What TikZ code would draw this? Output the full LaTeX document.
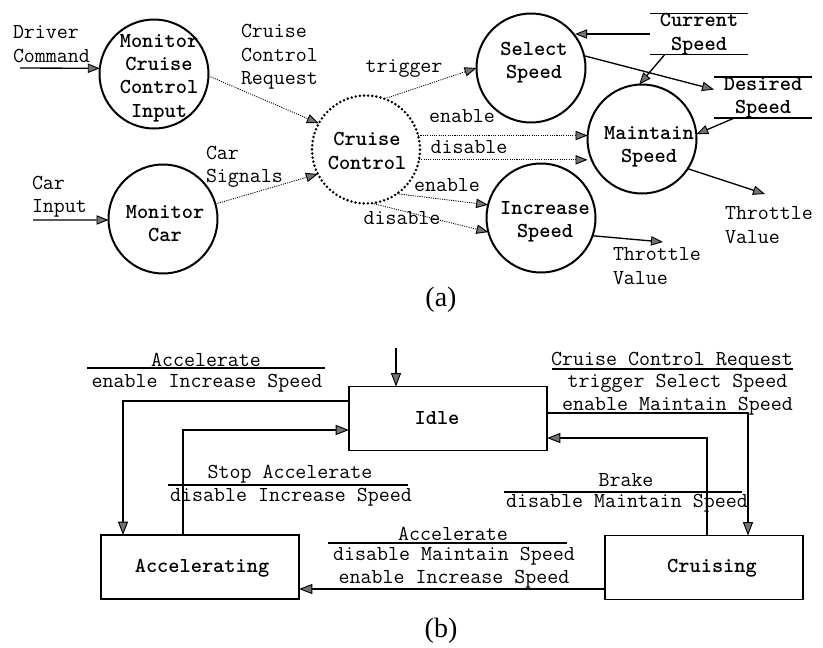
\documentclass[tikz,border=0pt]{standalone}
\usepackage{fontspec}
\newfontfamily\capfont{Liberation Serif}
\usetikzlibrary{arrows.meta}
\begin{document}
\begin{tikzpicture}[x=0.75pt,y=-0.75pt,
  every node/.style={inner sep=0pt,outer sep=0pt},
  lbl/.style={font=\ttfamily\fontsize{16}{17.5}\selectfont,align=center},
  lbll/.style={lbl,align=left,anchor=west},
  blbl/.style={font=\ttfamily\bfseries\fontsize{16}{17.5}\selectfont,align=center},
  proc/.style={circle,draw,line width=1.5pt,minimum size=81.75pt},
  ctrlproc/.style={circle,draw,line width=2.1pt,minimum size=81pt,dash pattern=on 0pt off 3.1pt,line cap=round},
  store/.style={blbl,minimum width=73.5pt,minimum height=31pt},
  flow/.style={line width=1pt,-{Triangle[length=9pt,width=7pt,fill=black!55,line width=0.7pt]}},
  cflow/.style={flow,line width=0.65pt,dash pattern=on 0.8pt off 0.9pt},
  statebox/.style={draw,line width=1.4pt,minimum width=148.5pt,minimum height=48pt},
  trans/.style={line width=1.4pt,-{Triangle[length=10pt,width=7.5pt,fill=black!55,line width=0.7pt]}},
  rulebar/.style={line width=1.1pt},
  sublabel/.style={font=\capfont\fontsize{21}{24}\selectfont}
]
\fill[white] (0,0) rectangle (823,647);
\useasboundingbox (0,0) rectangle (823,647);

% ---------- (a) data flow diagram ----------
\node[proc] (mcci) at (154,74) {};
\node[blbl] (mcciT) at (159,78) {Monitor\\Cruise\\Control\\Input};
\node[proc] (mc) at (163,219) {};
\node[blbl] (mcT) at (165,223.5) {Monitor\\Car};
\node[ctrlproc] (cc) at (366,149.5) {};
\node[blbl] (ccT) at (367,151) {Cruise\\Control};
\node[proc] (ss) at (531,68) {};
\node[blbl] (ssT) at (534,62.5) {Select\\Speed};
\node[proc] (ms) at (642,139) {};
\node[blbl] (msT) at (649,146.5) {Maintain\\Speed};
\node[proc] (is) at (541,218) {};
\node[blbl] (isT) at (545,222) {Increase\\Speed};

% data stores
\node[store] (cs) at (699,34) {Current\\Speed};
\draw[rulebar] (cs.north west) -- (cs.north east);
\draw[rulebar] (cs.south west) -- (cs.south east);
\node[store] (ds) at (763,97.5) {Desired\\Speed};
\draw[rulebar] (ds.north west) -- (ds.north east);
\draw[rulebar] (ds.south west) -- (ds.south east);

% external inputs and outputs
\node[lbll] (dcL) at (13,44) {Driver\\Command};
\coordinate (dcS) at (20,68);
\draw[flow] (dcS) -- (mcci.174);
\node[lbll] (ciL) at (32,197) {Car\\Input};
\coordinate (ciS) at (33,220);
\draw[flow] (ciS) -- (mc.181);

% control flows
\draw[cflow] (mcci.-2) -- (cc.151);
\node[lbll] (ccrL) at (241,57) {Cruise\\Control\\Request};
\draw[cflow] (mc.16) -- (cc.207);
\node[lbll] (sigL) at (206,167) {Car\\Signals};
\draw[cflow] (cc.70) -- (ss.180);
\node[lbl] (trigL) at (404,69) {trigger};
\draw[cflow] (cc.15) -- (cc.15 -| ms.west);
\node[lbl] (en1L) at (462,116) {enable};
\draw[cflow] (cc.-11) -- (cc.-11 -| ms.west);
\node[lbl] (dis1L) at (469,147) {disable};
\draw[cflow] (cc.-55) -- (is.166);
\node[lbl] (en2L) at (447,185) {enable};
\draw[cflow] (cc.-84) -- (is.195);
\node[lbl] (dis2L) at (402,218) {disable};

% data flows
\draw[flow] (cs.west) -- (cs.west -| ss.36);
\draw[flow] ([xshift=11pt]cs.south west) -- (ms.93);
\draw[flow] (ss.13) -- ([yshift=6pt]ds.west);
\draw[flow] ([xshift=15pt]ds.south west) -- (ms.5);
\coordinate (tvA) at (765,194);
\draw[flow] (ms.-33) -- (tvA);
\node[lbll] (tvAL) at (725,225) {Throttle\\Value};
\coordinate (tvB) at (663,242);
\draw[flow] (is.-19) -- (tvB);
\node[lbll] (tvBL) at (613,266) {Throttle\\Value};

\node[sublabel] (capA) at (441,300) {(a)};

% ---------- (b) state machine ----------
\node[statebox] (idle) at (448,418.5) {};
\node[blbl] (idleT) at (437,418) {Idle};
\node[statebox] (acc) at (200,567) {};
\node[blbl] (accT) at (202,568) {Accelerating};
\node[statebox] (cru) at (704,567.5) {};
\node[blbl] (cruT) at (712,568) {Cruising};

\coordinate (init) at (396,348);
\draw[trans] (init) -- (idle.north -| init);

% Idle -> Accelerating
\coordinate (r1) at (123,401);
\draw[trans] (idle.west |- r1) -| (acc.north -| r1);
\node[lbl] (t1a) at (206,360) {Accelerate};
\draw[rulebar] (87,368) -- (325,368);
\node[lbl] (t1b) at (207,383) {enable Increase Speed};

% Accelerating -> Idle
\coordinate (r2) at (183,430);
\draw[trans] (acc.north -| r2) |- (idle.west |- r2);
\node[lbl] (t2a) at (290,474) {Stop Accelerate};
\draw[rulebar] (168,485) -- (408,485);
\node[lbl] (t2b) at (291,497) {disable Increase Speed};

% Cruising -> Accelerating
\coordinate (r5) at (0,589);
\draw[trans] (cru.west |- r5) -- (acc.east |- r5);
\node[lbl] (t3a) at (453,534) {Accelerate};
\draw[rulebar] (328,543) -- (567,543);
\node[lbl] (t3b) at (454,568) {disable Maintain Speed\\enable Increase Speed};

% Idle -> Cruising
\coordinate (r3) at (748,413);
\draw[trans] (idle.east |- r3) -| (cru.north -| r3);
\node[lbl] (t4a) at (672,361) {Cruise Control Request};
\draw[rulebar] (552,369) -- (793,369);
\node[lbl] (t4b) at (677.5,394.5) {trigger Select Speed\\enable Maintain Speed};

% Cruising -> Idle
\coordinate (r4) at (707,438);
\draw[trans] (cru.north -| r4) |- (idle.east |- r4);
\node[lbl] (t5a) at (626,480) {Brake};
\draw[rulebar] (504,492) -- (742,492);
\node[lbl] (t5b) at (627,503) {disable Maintain Speed};

\node[sublabel] (capB) at (441,631) {(b)};
\end{tikzpicture}
\end{document}
